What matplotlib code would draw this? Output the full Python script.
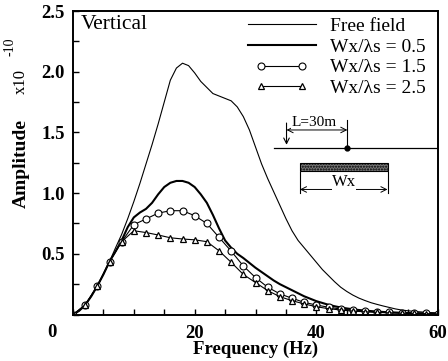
import matplotlib
matplotlib.use('Agg')
import matplotlib.pyplot as plt
from matplotlib.patches import Rectangle
from matplotlib.legend_handler import HandlerLine2D
from matplotlib.ticker import MultipleLocator

plt.rcParams['font.family'] = ['Liberation Serif', 'DejaVu Serif']

# 1 Hz samples for the plain lines
freq_fine = list(range(0, 61))
free_field = [0, 0.03, 0.078, 0.15, 0.235, 0.33, 0.436, 0.55, 0.66, 0.79,
              0.93, 1.08, 1.24, 1.40, 1.57, 1.75, 1.93, 2.03, 2.07, 2.05,
              1.99, 1.92, 1.87, 1.82, 1.80, 1.78, 1.76, 1.71, 1.63, 1.52,
              1.38, 1.24, 1.12, 1.01, 0.90, 0.79, 0.69, 0.61, 0.55, 0.49,
              0.43, 0.37, 0.32, 0.27, 0.225, 0.19, 0.16, 0.135, 0.115, 0.097,
              0.083, 0.07, 0.058, 0.046, 0.037, 0.031, 0.026, 0.022, 0.018, 0.015,
              0.012]
wx05 = [0, 0.03, 0.078, 0.15, 0.235, 0.33, 0.436, 0.52, 0.61, 0.72,
        0.80, 0.84, 0.87, 0.92, 0.99, 1.05, 1.085, 1.10, 1.10, 1.085,
        1.05, 0.99, 0.92, 0.82, 0.71, 0.61, 0.55, 0.50, 0.465, 0.425,
        0.385, 0.35, 0.315, 0.28, 0.25, 0.225, 0.20, 0.175, 0.15, 0.13,
        0.11, 0.095, 0.08, 0.068, 0.058, 0.05, 0.043, 0.037, 0.032, 0.028,
        0.024, 0.021, 0.018, 0.016, 0.014, 0.012, 0.011, 0.01, 0.009, 0.008,
        0.007]

# 2 Hz samples for the marked lines
freq_marked = list(range(0, 61, 2))
wx15 = [0, 0.078, 0.235, 0.436, 0.60, 0.74, 0.787, 0.835, 0.855, 0.855,
        0.814, 0.75, 0.636, 0.522, 0.40, 0.304, 0.225, 0.17, 0.134, 0.10,
        0.078, 0.06, 0.045, 0.035, 0.028, 0.022, 0.018, 0.015, 0.012, 0.01,
        0.008]
wx25 = [0, 0.078, 0.235, 0.436, 0.60, 0.69, 0.675, 0.655, 0.632, 0.622,
        0.615, 0.60, 0.525, 0.43, 0.33, 0.263, 0.197, 0.147, 0.114, 0.087,
        0.064, 0.048, 0.037, 0.028, 0.022, 0.017, 0.014, 0.011, 0.009, 0.007,
        0.005]

labels = ['Free field', 'Wx/λs = 0.5', 'Wx/λs = 1.5', 'Wx/λs = 2.5']

fig = plt.figure(figsize=(4.48, 3.61), dpi=100)
ax = fig.add_axes([73/448, 1 - 314.5/361, 365/448, 303.5/361])

l1, = ax.plot(freq_fine, free_field, color='black', lw=0.8, label=labels[0])
l2, = ax.plot(freq_fine, wx05, color='black', lw=1.5, label=labels[1])
l3, = ax.plot(freq_marked, wx15, color='black', lw=0.8, marker='o', ms=5,
              mfc='white', mec='black', mew=0.8, label=labels[2])
l4, = ax.plot(freq_marked, wx25, color='black', lw=0.8, marker='^', ms=4.5,
              mfc='white', mec='black', mew=0.9, label=labels[3])

ax.set_xlim(0, 60)
ax.set_ylim(0, 2.5)
ax.xaxis.set_minor_locator(MultipleLocator(5))
ax.yaxis.set_minor_locator(MultipleLocator(0.25))
ax.set_xticks([0, 20, 40, 60])
ax.set_xticklabels(['', '20', '40', '60'])
ax.set_yticks([0.5, 1.0, 1.5, 2.0, 2.5])
ax.set_yticklabels(['0.5', '1.0', '1.5', '2.0', '2.5'])
ax.tick_params(which='both', direction='in', length=4, width=1, top=False, right=False)
ax.tick_params(axis='x', pad=7.5, labelsize=13.5)
ax.tick_params(axis='y', pad=6, labelsize=13.5)
for t in ax.get_xticklabels() + ax.get_yticklabels():
    t.set_fontweight('bold')
for s in ax.spines.values():
    s.set_linewidth(1.4)

ax.text(-3.5, -0.15, '0', fontsize=13.5, fontweight='bold', ha='center', va='center', clip_on=False)
ax.set_xlabel('Frequency (Hz)', fontsize=13.5, fontweight='bold', labelpad=-1)
fig.text(21.5/448, 1 - 163/361, 'Amplitude', rotation=90, fontsize=14, fontweight='bold', ha='center', va='center')
fig.text(21/448, 1 - 81/361, 'x10', rotation=90, fontsize=12, ha='center', va='center')
fig.text(10/448, 1 - 47/361, '-10', rotation=90, fontsize=10, ha='center', va='center')

ax.text(1.3, 2.39, 'Vertical', fontsize=15.5, ha='left', va='center')

leg = ax.legend(handles=[l1, l2, l3, l4], loc='upper left', bbox_to_anchor=(0.463, 0.978),
                frameon=False, fontsize=14, handlelength=4.1, handletextpad=0.45,
                labelspacing=0.15, borderpad=0, borderaxespad=0, numpoints=2,
                handler_map={l3: HandlerLine2D(marker_pad=1.0), l4: HandlerLine2D(marker_pad=1.0)})

# inset sketch of the barrier layout
ax.plot([33.1, 60], [1.368, 1.368], color='black', lw=0.9)
ax.plot([45.1], [1.368], marker='o', ms=3.5, color='black')
ax.annotate('', xy=(35.1, 1.375), xytext=(35.1, 1.60),
            arrowprops=dict(arrowstyle='->', color='black', lw=0.8))
ax.plot([45.1, 45.1], [1.40, 1.60], color='black', lw=0.8)
ax.annotate('', xy=(35.1, 1.52), xytext=(45.1, 1.52),
            arrowprops=dict(arrowstyle='<->', color='black', lw=0.7, shrinkA=0, shrinkB=0))
ax.text(39.6, 1.58, 'L=30m', fontsize=11, ha='center', va='center',
        bbox=dict(facecolor='white', edgecolor='none', pad=0))
ax.add_patch(Rectangle((37.3, 1.18), 14.4, 0.07, facecolor='#777777', edgecolor='black',
                       lw=0.8, hatch='......'))
ax.plot([37.3, 37.3], [1.0, 1.17], color='black', lw=0.8)
ax.plot([51.7, 51.7], [1.0, 1.17], color='black', lw=0.8)
ax.annotate('', xy=(37.3, 1.03), xytext=(51.7, 1.03),
            arrowprops=dict(arrowstyle='<->', color='black', lw=0.7, shrinkA=0, shrinkB=0))
ax.text(44.5, 1.09, 'Wx', fontsize=12, ha='center', va='center',
        bbox=dict(facecolor='white', edgecolor='none', pad=0))

fig.savefig('out.png', dpi=100)
